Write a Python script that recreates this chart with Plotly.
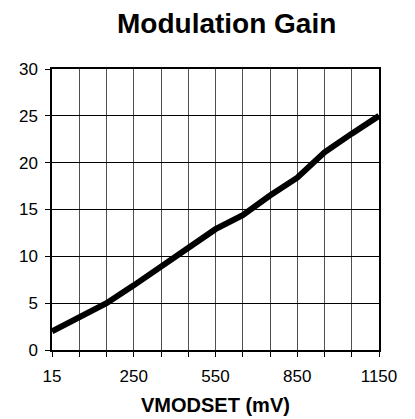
import plotly.graph_objects as go

categories = ["15", "95", "170", "250", "350", "450", "550", "650", "750", "850", "950", "1050", "1150"]
gain = [2.0, 3.5, 5.0, 6.9, 8.9, 10.9, 12.9, 14.4, 16.5, 18.4, 21.1, 23.1, 25.0]
y_ticks = [0, 5, 10, 15, 20, 25, 30]

labels = [c if i % 3 == 0 else "" for i, c in enumerate(categories)]

fig = go.Figure()
fig.add_trace(go.Scatter(x=categories, y=gain, mode="lines",
                         line=dict(color="black", width=6), showlegend=False))

# page body adds an 8px offset
W, H = 407, 411
ml, mr, mt, mb = 44, 36, 61, 69
plot_w = W - ml - mr
plot_h = H - mt - mb
x0, y_bottom = 8 + ml, 8 + H - mb

fig.update_layout(
    width=W, height=H,
    margin=dict(l=ml, r=mr, t=mt, b=mb, autoexpand=False),
    paper_bgcolor="white", plot_bgcolor="white",
    font=dict(family="Liberation Sans, Arial", size=17, color="black"),
    annotations=[
        dict(text="<b>Modulation Gain</b>", xref="paper", yref="paper",
             x=(226 - x0) / plot_w, y=(y_bottom - 23) / plot_h,
             xanchor="center", yanchor="middle", showarrow=False,
             font=dict(size=28)),
        dict(text="<b>VMODSET (mV)</b>", xref="paper", yref="paper",
             x=(216 - x0) / plot_w, y=(y_bottom - 405) / plot_h,
             xanchor="center", yanchor="middle", showarrow=False,
             font=dict(size=20)),
    ],
)
fig.update_xaxes(
    type="category", categoryorder="array", categoryarray=categories,
    range=[0, len(categories) - 1],
    tickvals=categories, ticktext=labels,
    showgrid=True, gridcolor="#505050", gridwidth=1,
    showline=True, linecolor="black", linewidth=1.5, mirror=True,
    ticks="outside", ticklen=5, tickcolor="black", ticklabelstandoff=5,
    zeroline=False,
)
fig.update_yaxes(
    range=[0, 30], tickvals=y_ticks,
    showgrid=True, gridcolor="black", gridwidth=1,
    showline=True, linecolor="black", linewidth=1.5, mirror=True,
    ticks="outside", ticklen=5, tickcolor="black", ticklabelstandoff=4,
    zeroline=False,
)
fig.write_html("out.html")
